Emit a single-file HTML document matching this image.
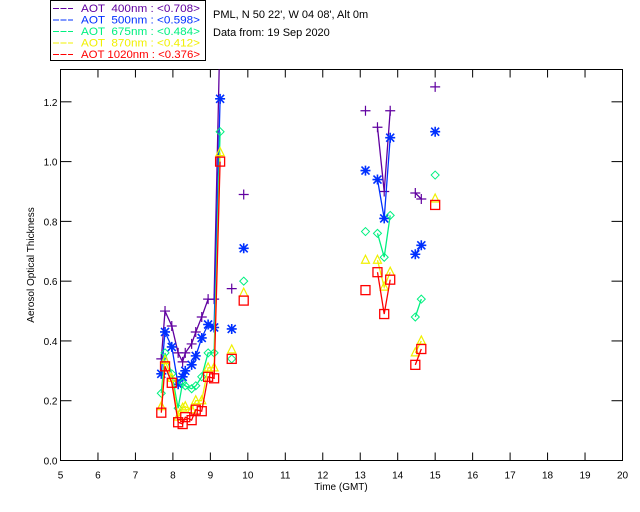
<!DOCTYPE html>
<html><head><meta charset="utf-8">
<style>
body{margin:0;background:#fff;}
svg{display:block;font-family:"Liberation Sans",sans-serif;}
</style></head>
<body>
<svg id="chart" width="640" height="512" viewBox="0 0 640 512" xmlns="http://www.w3.org/2000/svg">
<rect x="0" y="0" width="640" height="512" fill="#fff"/>
<g id="legend">
<rect x="50.5" y="0.5" width="155" height="60" fill="none" stroke="#000" stroke-width="1"/>
</g>
<text x="213" y="18" font-size="11">PML, N 50 22', W 04 08', Alt 0m</text>
<text x="213" y="36" font-size="11">Data from: 19 Sep 2020</text>
<g id="axes"></g>
<g id="series"></g>
<text x="341" y="490" font-size="10" text-anchor="middle">Time (GMT)</text>
<text transform="translate(34,265) rotate(-90)" font-size="10" text-anchor="middle">Aerosol Optical Thickness</text>
</svg>
<script>
const times = [7.69,7.79,7.97,8.14,8.26,8.33,8.5,8.61,8.77,8.94,9.1,9.26, 9.57, 9.89, 13.14, 13.46,13.64,13.8, 14.47,14.63, 15.0];
const groups = [0,0,0,0,0,0,0,0,0,0,0,0, 1, 2, 3, 4,4,4, 5,5, 6];
const aot400 = [0.34,0.50,0.45,0.36,0.33,0.36,0.39,0.43,0.48,0.54,0.54,1.45, 0.575,0.89, 1.17, 1.115,0.90,1.17, 0.895,0.875, 1.25];
const aot500 = [0.29,0.43,0.38,0.255,0.28,0.30,0.32,0.35,0.41,0.455,0.445,1.21, 0.44,0.71, 0.97, 0.94,0.81,1.08, 0.69,0.72, 1.10];
const aot675 = [0.225,0.36,0.29,0.175,0.26,0.25,0.24,0.25,0.28,0.36,0.36,1.10, 0.34,0.60, 0.766, 0.76,0.68,0.82, 0.48,0.54, 0.955];
const aot870 = [0.18,0.335,0.275,0.145,0.175,0.18,0.17,0.20,0.20,0.31,0.31,1.03, 0.37,0.56, 0.67, 0.67,0.58,0.63, 0.36,0.40, 0.875];
const aot1020 = [0.16,0.315,0.26,0.128,0.122,0.145,0.135,0.17,0.165,0.28,0.275,1.00, 0.34,0.535, 0.57, 0.63,0.49,0.605, 0.32,0.373, 0.855];
const xTicks = [5,6,7,8,9,10,11,12,13,14,15,16,17,18,19,20];
const yTicks = [0.0,0.2,0.4,0.6,0.8,1.0,1.2];
const legendLabels = ["AOT  400nm : <0.708>","AOT  500nm : <0.598>","AOT  675nm : <0.484>","AOT  870nm : <0.412>","AOT 1020nm : <0.376>"];

const NS="http://www.w3.org/2000/svg";
const L=60.5,R=622.5,T=69.5,B=460.5;
function xs(t){return L+(t-5)/15*(R-L);}
function ys(v){return B-v*298.9;}
function mk(tag,attrs,parent){const e=document.createElementNS(NS,tag);for(const k in attrs)e.setAttribute(k,attrs[k]);parent.appendChild(e);return e;}

const axes=document.getElementById('axes');
const frame=mk('rect',{x:L,y:T,width:R-L,height:B-T,fill:'none',stroke:'#000','stroke-width':1},axes);


xTicks.forEach(t=>{
  const x=xs(t);
  const tb=mk('line',{x1:x,y1:B,x2:x,y2:B-8,stroke:'#000'},axes);
  
  
  const tt=mk('line',{x1:x,y1:T,x2:x,y2:T+8,stroke:'#000'},axes);
  
  
  const lb=mk('text',{x:x,y:B+18,'font-size':10,'text-anchor':'middle'},axes);
  lb.textContent=String(t);
  
  
});
yTicks.forEach(v=>{
  const y=ys(v);
  const tl=mk('line',{x1:L,y1:y,x2:L+11,y2:y,stroke:'#000'},axes);
  
  
  const tr=mk('line',{x1:R,y1:y,x2:R-11,y2:y,stroke:'#000'},axes);
  
  
  const lb=mk('text',{x:L-3,y:y+4,'font-size':10,'text-anchor':'end'},axes);
  lb.textContent=v.toFixed(1);
  
  
});

const colors=['#6000a0','#0030ff','#00f080','#f0f000','#ff0000'];
const marks=['plus','star','diamond','triangle','square'];
const allSeries=[aot400,aot500,aot675,aot870,aot1020];
const svg=document.getElementById('chart');
const defs=mk('defs',{},svg);
const cp=mk('clipPath',{id:'clip'},defs);
mk('rect',{x:L,y:T,width:R-L,height:B-T},cp);
const sg=document.getElementById('series');
sg.setAttribute('clip-path','url(#clip)');

function marker(kind,x,y,c,g){
  let e;
  if(kind==='plus'){e=mk('path',{d:`M${x-5},${y}H${x+5}M${x},${y-5}V${y+5}`,stroke:c,fill:'none','stroke-width':1.2},g);}
  else if(kind==='star'){e=mk('path',{d:`M${x-5},${y}H${x+5}M${x},${y-5}V${y+5}M${x-4},${y-4}L${x+4},${y+4}M${x-4},${y+4}L${x+4},${y-4}`,stroke:c,fill:'none','stroke-width':1.6},g);}
  else if(kind==='diamond'){e=mk('path',{d:`M${x},${y-4}L${x+4},${y}L${x},${y+4}L${x-4},${y}Z`,stroke:c,fill:'none'},g);}
  else if(kind==='triangle'){e=mk('path',{d:`M${x},${y-5}L${x+4},${y+3}L${x-4},${y+3}Z`,stroke:c,fill:'none','stroke-width':1.2},g);}
  else {e=mk('rect',{x:x-4.5,y:y-4.5,width:9,height:9,stroke:c,fill:'none','stroke-width':1.3},g);}
  
  
}
allSeries.forEach((vals,si)=>{
  const g=mk('g',{},sg);
  
  
  let d='';
  for(let i=0;i<times.length;i++){
    const x=xs(times[i]),y=ys(vals[i]);
    d+=(i>0&&groups[i]===groups[i-1]?'L':'M')+x.toFixed(1)+','+y.toFixed(1);
  }
  const p=mk('path',{d:d,stroke:colors[si],fill:'none','stroke-width':1.3},g);
  
  
  for(let i=0;i<times.length;i++) marker(marks[si],xs(times[i]),ys(vals[i]),colors[si],g);
});

const lg=document.getElementById('legend');
legendLabels.forEach((s,i)=>{
  const y=12+i*11.5;
  const ln=mk('line',{x1:53,y1:y-3.5,x2:73,y2:y-3.5,stroke:colors[i],'stroke-dasharray':'6,1.5'},lg);
  
  
  const t=mk('text',{x:81,y:y,'font-size':11,fill:colors[i],textLength:119,lengthAdjust:'spacingAndGlyphs'},lg);
  t.textContent=s;
  t.setAttribute('style','white-space:pre');
  
  
});
</script>
</body></html>
